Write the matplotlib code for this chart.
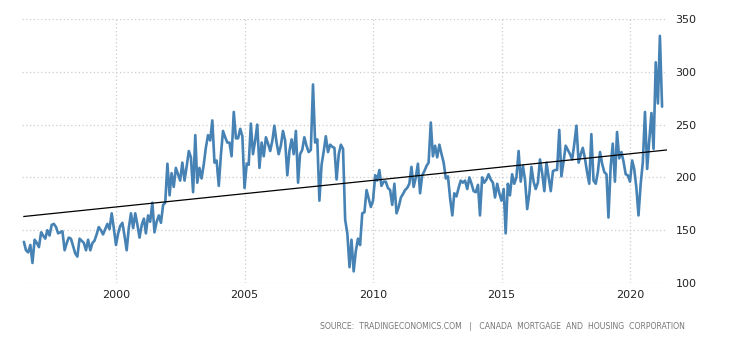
import numpy as np
import pandas as pd
import matplotlib
matplotlib.use("Agg")
import matplotlib.pyplot as plt
import matplotlib.dates as mdates

# Canada housing starts, thousand units (SAAR), monthly from June 1996
first_month = "1996-06-01"
housing_starts = [
    139, 131, 129, 136, 119, 141, 138, 134, 148, 145, 142, 150,
    145, 155, 156, 153, 147, 148, 149, 131, 138, 143, 142, 135,
    128, 125, 142, 140, 138, 131, 141, 131, 138, 140, 146, 153,
    150, 146, 151, 156, 151, 166, 152, 136, 147, 154, 157, 145,
    131, 152, 166, 152, 166, 155, 143, 155, 161, 147, 164, 158,
    176, 148, 158, 164, 157, 174, 176, 213, 183, 204, 191, 209,
    203, 197, 214, 197, 210, 225, 219, 186, 240, 195, 209, 199,
    212, 228, 240, 235, 254, 214, 216, 192, 222, 244, 238, 233,
    233, 220, 262, 237, 237, 246, 239, 190, 213, 212, 251, 222,
    235, 250, 209, 233, 220, 238, 232, 225, 235, 249, 233, 222,
    230, 244, 235, 202, 225, 236, 222, 244, 195, 222, 226, 238,
    230, 224, 226, 288, 233, 236, 178, 212, 225, 239, 224, 231,
    229, 228, 198, 222, 231, 227, 160, 147, 115, 141, 111, 130,
    142, 136, 166, 167, 188, 180, 172, 178, 202, 197, 207, 192,
    196, 196, 190, 188, 174, 194, 166, 172, 181, 184, 188, 190,
    194, 210, 191, 200, 213, 185, 202, 206, 211, 214, 252, 220,
    230, 219, 231, 222, 214, 199, 201, 180, 164, 185, 182, 190,
    197, 195, 197, 189, 200, 194, 187, 186, 193, 164, 200, 195,
    198, 203, 198, 195, 181, 194, 185, 178, 189, 147, 194, 183,
    203, 194, 200, 225, 196, 211, 198, 170, 185, 210, 196, 189,
    195, 217, 204, 187, 214, 200, 187, 206, 207, 207, 245, 201,
    215, 230, 226, 222, 217, 232, 249, 214, 222, 228, 218, 205,
    194, 241, 197, 194, 205, 224, 213, 205, 203, 162, 210, 232,
    196, 243, 218, 224, 215, 203, 202, 196, 216, 208, 190, 164,
    194, 214, 262, 208, 235, 261, 227, 309, 270, 334, 267,
]
trend_ends = [163, 226]
year_ticks = [2000, 2005, 2010, 2015, 2020]
value_ticks = [100, 150, 200, 250, 300, 350]

dates = pd.date_range(first_month, periods=len(housing_starts), freq="MS")
x_end = pd.Timestamp("2021-06-10")

fig = plt.figure(figsize=(7.3, 3.4), dpi=100)
ax = fig.add_axes([0.0301, 0.1676, 0.8836, 0.7765])

ax.plot(dates, housing_starts, color="#4682b4", lw=1.9,
        solid_joinstyle="round", solid_capstyle="round", zorder=3)
ax.plot([dates[0], x_end], trend_ends, color="black", lw=0.9, zorder=4)

ax.set_xlim(pd.Timestamp("1996-05-05"), x_end)
ax.set_ylim(100, 350)
ax.set_xticks([pd.Timestamp(f"{y}-01-01") for y in year_ticks])
ax.xaxis.set_major_formatter(mdates.DateFormatter("%Y"))
ax.set_yticks(value_ticks)
ax.yaxis.tick_right()

ax.grid(True, color="#cccccc", linestyle=(0, (1, 2)), lw=0.9)
ax.set_axisbelow(True)
for s in ax.spines.values():
    s.set_visible(False)
ax.tick_params(length=0, labelsize=8, colors="#222222")
ax.tick_params(axis="y", pad=6)
ax.tick_params(axis="x", pad=5)

fig.text(0.938, 0.04, "SOURCE:  TRADINGECONOMICS.COM   |   CANADA  MORTGAGE  AND  HOUSING  CORPORATION",
         ha="right", va="center", fontsize=5.6, color="#777777")

fig.savefig("out.png", dpi=100)
